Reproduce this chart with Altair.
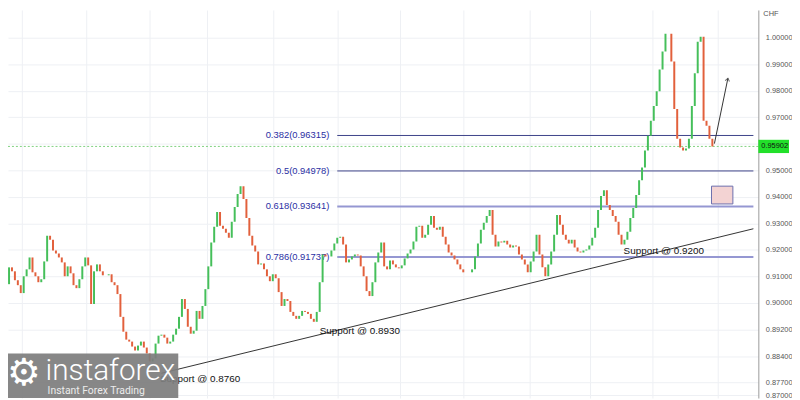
import altair as alt
import pandas as pd

# ---------------- data ----------------
first_open = 0.9050
closes = [
    0.90710, 0.91344, 0.91195, 0.90859, 0.90672, 0.90374, 0.91008, 0.91269, 0.91717, 0.91157,
    0.91008, 0.90784, 0.90896, 0.91568, 0.92538, 0.92389, 0.91978, 0.91866, 0.91717, 0.91531,
    0.91008, 0.91381, 0.91120, 0.90672, 0.90560, 0.90896, 0.91381, 0.91717, 0.91419, 0.89963,
    0.91195, 0.91456, 0.91195, 0.91045, 0.91045, 0.91083, 0.90784, 0.90672, 0.90337, 0.89478,
    0.88919, 0.88620, 0.88546, 0.88359, 0.88210, 0.88396, 0.88546, 0.88322, 0.88098, 0.87799,
    0.87911, 0.88471, 0.88769, 0.88807, 0.88695, 0.88471, 0.88546, 0.88807, 0.89031, 0.89478,
    0.90150, 0.89777, 0.89105, 0.88844, 0.88956, 0.89702, 0.89404, 0.89889, 0.90523, 0.91381,
    0.92277, 0.92874, 0.93433, 0.92911, 0.92799, 0.92650, 0.92463, 0.93060, 0.93620, 0.94105,
    0.94403, 0.93918, 0.93209, 0.92538, 0.92165, 0.91941, 0.91456, 0.91493, 0.91269, 0.91008,
    0.90822, 0.91083, 0.90934, 0.90411, 0.89889, 0.90150, 0.90075, 0.89665, 0.89516, 0.89404,
    0.89516, 0.89702, 0.89665, 0.89590, 0.89404, 0.89292, 0.89665, 0.90784, 0.91829, 0.91754,
    0.91754, 0.91978, 0.92239, 0.92463, 0.92501, 0.92202, 0.91531, 0.91642, 0.91754, 0.91829,
    0.91792, 0.91381, 0.91008, 0.90449, 0.90262, 0.90784, 0.91531, 0.91904, 0.92277, 0.91381,
    0.91269, 0.91605, 0.91456, 0.91344, 0.91307, 0.91419, 0.91680, 0.91866, 0.92016, 0.92314,
    0.92874, 0.92911, 0.92463, 0.92575, 0.92948, 0.93284, 0.92836, 0.92762, 0.92874, 0.92501,
    0.92202, 0.91904, 0.91792, 0.91642, 0.91456, 0.91269, 0.91157, 0.91157, 0.91157, 0.91269,
    0.91754, 0.92239, 0.92762, 0.93023, 0.93284, 0.93508, 0.92575, 0.92127, 0.92314, 0.92277,
    0.92351, 0.92202, 0.92090, 0.92165, 0.92127, 0.91829, 0.91642, 0.91456, 0.91157, 0.91568,
    0.91941, 0.92575, 0.91829, 0.91344, 0.91008, 0.91456, 0.91941, 0.92575, 0.93321, 0.92948,
    0.92575, 0.92389, 0.92239, 0.92389, 0.92090, 0.91941, 0.91904, 0.91978, 0.92016, 0.92165,
    0.92463, 0.92836, 0.93508, 0.94030, 0.94254, 0.93694, 0.93508, 0.93284, 0.93060, 0.92575,
    0.92202, 0.92389, 0.92687, 0.93209, 0.93583, 0.94068, 0.94627, 0.95112, 0.95747, 0.96306,
    0.96866, 0.97425, 0.97985, 0.98806, 0.99478, 1.00149, 1.00149, 0.99104, 0.97314, 0.96194,
    0.95858, 0.95747, 0.95821, 0.96194, 0.97425, 0.98657, 0.99851, 1.00037, 0.96866, 0.96679,
    0.96194, 0.95902,
]

fib_ratios = ["0.382", "0.5", "0.618", "0.786"]
fib_prices = [0.96315, 0.94978, 0.93641, 0.91737]
fib_kind = ["dark", "dark", "light", "light"]

last_price = 0.95902

support_texts = ["Support @ 0.8760", "Support @ 0.8930", "Support @ 0.9200"]
support_bar = [52.5, 107.0, 210.7]
support_price = [0.87128, 0.88956, 0.91978]

trend_bar = [53.0, 255.0]
trend_price = [0.87352, 0.92799]

zone_bar = [240.7, 248.0]
zone_price = [0.94405, 0.93734]

arrow_bar = [241.7, 246.3]
arrow_price = [0.96008, 0.98470]

y_tick_values = [1.00, 0.99, 0.98, 0.97, 0.96, 0.95, 0.94, 0.93, 0.92, 0.91, 0.90, 0.89, 0.88, 0.87, 0.8653]
y_tick_labels = ["1.00000", "0.99000", "0.98000", "0.97000", "", "0.95000", "0.94000", "0.93000",
                 "0.92000", "0.91000", "0.90000", "0.89200", "0.88400", "0.87700", "0.87000"]
x_grid_bars = [5.3, 27.3, 49.0, 68.7, 91.3, 113.0, 134.3, 156.0, 178.7, 199.3, 220.7, 242.7]

# ---------------- tables ----------------
opens = [first_open] + closes[:-1]
candles = pd.DataFrame({
    "bar": list(range(len(closes))),
    "open": opens,
    "close": closes,
})
candles["dir"] = ["up" if c >= o else "down" for o, c in zip(opens, closes)]

fib = pd.DataFrame({
    "price": fib_prices,
    "label": [f"{r}({p:.5f})" for r, p in zip(fib_ratios, fib_prices)],
    "x0": [113.0] * 4,
    "x1": [255.0] * 4,
    "x_lab": [110.3] * 4,
    "kind": fib_kind,
})
supports = pd.DataFrame({"bar": support_bar, "price": support_price, "text": support_texts})
trend = pd.DataFrame({"bar": trend_bar, "price": trend_price})
zone = pd.DataFrame({"b0": [zone_bar[0]], "b1": [zone_bar[1]], "p0": [zone_price[0]], "p1": [zone_price[1]]})
arrow = pd.DataFrame({"bar": arrow_bar, "price": arrow_price})
arrow_head = pd.DataFrame({"bar": [arrow_bar[1]], "price": [arrow_price[1]]})
last = pd.DataFrame({"price": [last_price], "text": [f"{last_price:.5f}"]})

W, H = 758, 392
XD = [2.333, 255.0]
YD = [0.86419, 1.01045]

labels_js = "{" + ",".join(f"'{v:.4f}':'{l}'" for v, l in zip(y_tick_values, y_tick_labels)) + "}"
NARROW = "Liberation Sans Narrow, Liberation Sans, sans-serif"

xs = alt.Scale(domain=XD, nice=False, zero=False)
ys = alt.Scale(domain=YD, nice=False, zero=False)

x_axis = alt.Axis(values=x_grid_bars, grid=True, labels=False, ticks=False, domain=False,
                  title=None, gridColor="#eef0f4", gridWidth=1)
y_axis = alt.Axis(orient="right", values=y_tick_values, title=None, grid=True, gridColor="#eef0f4",
                  ticks=False, domainColor="#9a9a9a", labelPadding=7, labelOverlap=False,
                  labelFlush=False, labelBound=False,
                  labelExpr=f"{labels_js}[format(datum.value, '.4f')]",
                  labelFont=NARROW, labelFontSize=7.5, labelColor="#555555", labelAlign="left")


def X(field):
    return alt.X(field, scale=xs, axis=x_axis)


def Y(field):
    return alt.Y(field, scale=ys, axis=y_axis)


last_line = alt.Chart(last).mark_rule(color="#7fd07f", strokeDash=[2, 2], strokeWidth=1).encode(
    y=Y("price:Q"), x=alt.value(0), x2=alt.value(W))

fib_dark = alt.Chart(fib).transform_filter("datum.kind == 'dark'").mark_rule(
    clip=True, color="#3d4289", strokeWidth=1).encode(
    x=X("x0:Q"), x2="x1:Q", y=Y("price:Q"))
fib_light = alt.Chart(fib).transform_filter("datum.kind == 'light'").mark_rule(
    clip=True, color="#9597d2", strokeWidth=2).encode(
    x=X("x0:Q"), x2="x1:Q", y=Y("price:Q"))

fib_text = alt.Chart(fib).mark_text(align="right", baseline="middle", font=NARROW, fontSize=9.5,
                                    color="#2b2fa3").encode(
    x=X("x_lab:Q"), y=Y("price:Q"), text="label:N")

bodies = alt.Chart(candles).mark_bar(size=2, clip=True).encode(
    x=X("bar:Q"),
    y=Y("open:Q"),
    y2="close:Q",
    color=alt.Color("dir:N", scale=alt.Scale(domain=["up", "down"], range=["#45bf5a", "#e2603c"]), legend=None),
)

trend_line = alt.Chart(trend).mark_line(color="#333333", strokeWidth=1, clip=True).encode(
    x=X("bar:Q"), y=Y("price:Q"))

zone_rect = alt.Chart(zone).mark_rect(fill="#f3d3d3", stroke="#6b6fae", strokeWidth=1).encode(
    x=X("b0:Q"), x2="b1:Q", y=Y("p0:Q"), y2="p1:Q")

arrow_line = alt.Chart(arrow).mark_line(color="#333333", strokeWidth=1).encode(
    x=X("bar:Q"), y=Y("price:Q"))

arrow_tip = alt.Chart(arrow_head).mark_point(shape="M-0.7,0.9L0,0L0.7,0.9", filled=False, stroke="#333333",
                                            strokeWidth=1, size=40, angle=12).encode(
    x=X("bar:Q"), y=Y("price:Q"))

support_text = alt.Chart(supports).mark_text(align="left", baseline="middle", font=NARROW, fontSize=10,
                                             color="#111111").encode(
    x=X("bar:Q"), y=Y("price:Q"), text="text:N")

last_box = alt.Chart(last).transform_calculate(top="datum.price + 0.0025", bot="datum.price - 0.0025").mark_rect(
    color="#22e02a").encode(x=alt.value(W), x2=alt.value(W + 31), y=Y("top:Q"), y2="bot:Q")
last_text = alt.Chart(last).mark_text(align="left", baseline="middle", font=NARROW, fontSize=7.5,
                                      color="#111111").encode(
    x=alt.value(W + 3), y=Y("price:Q"), text="text:N")

chf = alt.Chart(pd.DataFrame({"t": ["CHF"]})).mark_text(align="left", baseline="top", font=NARROW,
                                                      fontSize=7.5, color="#555555").encode(
    x=alt.value(W + 5), y=alt.value(0), text="t:N")

logo_df = pd.DataFrame({"a": ["instaforex"], "b": ["Instant Forex Trading"], "g": ["\u2699"]})
logo_bg = alt.Chart(logo_df).mark_rect(color="#7d7d7d", opacity=0.92).encode(
    x=alt.value(0), x2=alt.value(172), y=alt.value(347), y2=alt.value(H))
logo_gear = alt.Chart(logo_df).mark_text(font="DejaVu Sans", fontSize=38, color="#ffffff", align="center",
                                         baseline="middle").encode(x=alt.value(16), y=alt.value(368), text="g:N")
logo_main = alt.Chart(logo_df).mark_text(font="Roboto", fontWeight=300, fontSize=30, color="#ffffff",
                                         align="left", baseline="alphabetic").encode(
    x=alt.value(38), y=alt.value(374), text="a:N")
logo_sub = alt.Chart(logo_df).mark_text(font="Roboto", fontSize=10.5, color="#ececec", align="left",
                                        baseline="alphabetic").encode(x=alt.value(40), y=alt.value(388), text="b:N")

chart = alt.layer(
    last_line, fib_dark, fib_light, fib_text, bodies, trend_line, zone_rect, arrow_line, arrow_tip,
    support_text, last_box, last_text, chf, logo_bg, logo_gear, logo_main, logo_sub,
).properties(
    width=W, height=H,
    background="#ffffff",
    autosize=alt.AutoSizeParams(type="none"),
    padding={"left": 0, "top": 0, "right": 34, "bottom": 0},
).configure_view(stroke=None).configure_axis(labelOverlap=False)

chart.save("out.html", embed_options={"renderer": "svg", "actions": False})
